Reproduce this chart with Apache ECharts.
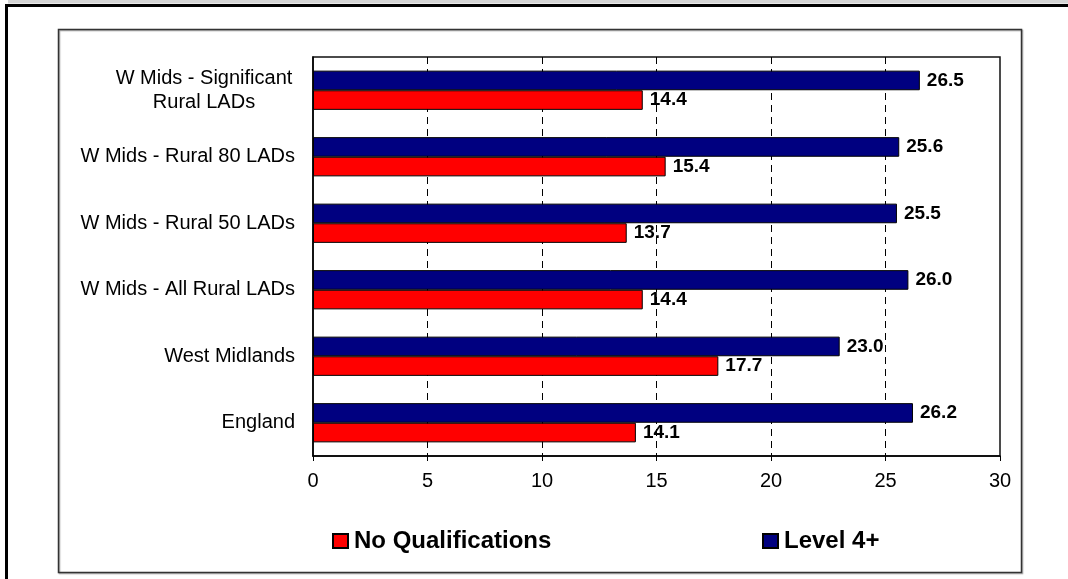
<!DOCTYPE html>
<html>
<head>
<meta charset="utf-8">
<script src="https://cdn.jsdelivr.net/npm/echarts@6/dist/echarts.min.js"></script>
<style>
  html, body { margin: 0; padding: 0; background: #fff; }
  #chart { width: 1068px; height: 579px; }
</style>
</head>
<body>
<div id="chart"></div>
<script>
// Areas, listed bottom to top along the category axis
const categories = [
  'England',
  'West Midlands',
  'W Mids - All Rural LADs',
  'W Mids - Rural 50 LADs',
  'W Mids - Rural 80 LADs',
  'W Mids - Significant\nRural LADs'
];
// Percentage of working-age population
const level4Plus = [26.2, 23.0, 26.0, 25.5, 25.6, 26.5];
const noQualifications = [14.1, 17.7, 14.4, 13.7, 15.4, 14.4];
const xTicks = [0, 5, 10, 15, 20, 25, 30];

const FONT = '"Liberation Sans", Arial, Helvetica, sans-serif';

const chart = echarts.init(document.getElementById('chart'), null, { renderer: 'canvas' });

const valueLabel = {
  show: true,
  position: 'right',
  distance: 7,
  color: '#000',
  fontFamily: FONT,
  fontSize: 19,
  fontWeight: 'bold',
  formatter: p => p.value.toFixed(1)
};

const legendText = { fontFamily: FONT, fontSize: 24, fontWeight: 'bold', color: '#000', padding: [0, 0, 0, 1] };

chart.setOption({
  animation: false,
  backgroundColor: '#fff',
  textStyle: { fontFamily: FONT },
  graphic: [
    { type: 'rect', shape: { x: 8, y: 0, width: 1060, height: 3.5 }, style: { fill: '#d4d4d4' }, silent: true },
    { type: 'rect', shape: { x: 5, y: 4, width: 1063, height: 3 }, style: { fill: '#000' }, silent: true },
    { type: 'rect', shape: { x: 5, y: 4, width: 3, height: 575 }, style: { fill: '#000' }, silent: true },
    {
      type: 'rect',
      shape: { x: 58.5, y: 29.5, width: 963, height: 543 },
      style: { fill: null, stroke: '#333', lineWidth: 1.5, shadowColor: 'rgba(0,0,0,0.35)', shadowOffsetX: 1, shadowOffsetY: 1, shadowBlur: 1 },
      silent: true,
      z: -1
    }
  ],
  grid: {
    left: 313, right: 68, top: 57, bottom: 123,
    show: true, borderColor: '#111', borderWidth: 1.5, backgroundColor: 'transparent'
  },
  legend: [
    {
      data: ['No Qualifications'],
      left: 332, top: 529, padding: 0,
      icon: 'rect', itemWidth: 15, itemHeight: 14, itemGap: 7,
      textStyle: legendText
    },
    {
      data: ['Level 4+'],
      left: 762, top: 529, padding: 0,
      icon: 'rect', itemWidth: 15, itemHeight: 14, itemGap: 7,
      textStyle: legendText
    }
  ],
  xAxis: {
    type: 'value',
    min: xTicks[0],
    max: xTicks[xTicks.length - 1],
    interval: xTicks[1] - xTicks[0],
    axisLine: { show: true, lineStyle: { color: '#000', width: 1.5 } },
    axisTick: { show: true, length: 5, lineStyle: { color: '#000' } },
    splitLine: {
      show: true, showMinLine: false, showMaxLine: false,
      lineStyle: { color: '#000', type: [7, 5], width: 1 }
    },
    axisLabel: { color: '#000', fontFamily: FONT, fontSize: 20, margin: 15 }
  },
  yAxis: {
    type: 'category',
    data: categories,
    axisLine: { show: true, lineStyle: { color: '#000', width: 1.5 } },
    axisTick: { show: false },
    splitLine: { show: false },
    axisLabel: {
      color: '#000', fontFamily: FONT, fontSize: 20, margin: 18, lineHeight: 24,
      formatter: v => v.indexOf('\n') >= 0
        ? v.split('\n').map(s => '{m|' + s + '}').join('\n')
        : v,
      rich: {
        m: { width: 182, align: 'center', fontFamily: FONT, fontSize: 20, color: '#000', lineHeight: 24 }
      }
    }
  },
  series: [
    {
      name: 'Level 4+',
      type: 'bar',
      data: level4Plus,
      barGap: '0%',
      barCategoryGap: '41%',
      itemStyle: { color: '#000080', borderColor: '#000', borderWidth: 1 },
      label: valueLabel
    },
    {
      name: 'No Qualifications',
      type: 'bar',
      data: noQualifications,
      barGap: '0%',
      barCategoryGap: '41%',
      itemStyle: { color: '#ff0000', borderColor: '#000', borderWidth: 1 },
      label: valueLabel
    }
  ]
});
</script>
</body>
</html>
